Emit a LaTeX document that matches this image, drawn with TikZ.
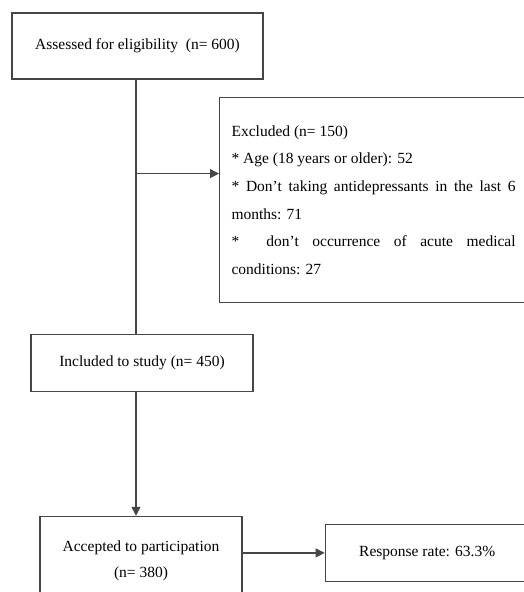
\documentclass[tikz,border=0pt]{standalone}
\usepackage{fontspec}
\setmainfont{Liberation Serif}
\usetikzlibrary{arrows.meta,calc,positioning}
\definecolor{linegray}{RGB}{70,70,70}

\begin{document}
\begin{tikzpicture}[
  x=1pt, y=1pt,
  font=\fontsize{15.5}{27.6}\selectfont,
  flowbox/.style={draw=linegray, line width=1.2pt, align=center, inner sep=0pt},
  arr/.style={-{Triangle[length=9pt, width=9pt]}, draw=linegray, line width=1.2pt},
  conn/.style={draw=linegray, line width=1.2pt}
]
\useasboundingbox (0,0) rectangle (524,-592);
\clip (0,0) rectangle (524,-592);
\node[flowbox, minimum width=251pt, minimum height=66pt] (assess) at (137.5,-46) {Assessed for eligibility~~(n= 600)\vphantom{g}};
\node[flowbox, anchor=north west, align=justify, text width=284pt, inner xsep=12pt, minimum height=205pt] (excl) at (219,-97) {Excluded (n= 150)\\
{*} Age (18 years or older): 52\\
{*} Don't taking antidepressants in the last 6\linebreak months: 71\\
{*}\ \ don't occurrence of acute medical\linebreak conditions: 27};
\node[flowbox, minimum width=222pt, minimum height=57pt, below=254pt of assess, xshift=4.5pt] (incl) {Included to study (n= 450)};
\node[flowbox, minimum width=202pt, minimum height=88pt, below=124pt of incl, xshift=-1pt, font=\fontsize{15.5}{26}\selectfont] (acc) {Accepted to participation\\(n= 380)};
\node[flowbox, minimum width=204pt, minimum height=57pt, right=82pt of acc, yshift=7.5pt] (resp) {Response rate: 63.3\%};
\coordinate (split) at ($(assess.south)+(-1.5,-94)$);
\draw[conn] ($(assess.south)+(-1.5,0)$) -- (split |- incl.north);
\draw[arr] (split) -- (split -| excl.west);
\draw[arr] (split |- incl.south) -- (split |- acc.north);
\draw[arr] (resp.west -| acc.east) -- (resp.west);
\end{tikzpicture}
\end{document}
